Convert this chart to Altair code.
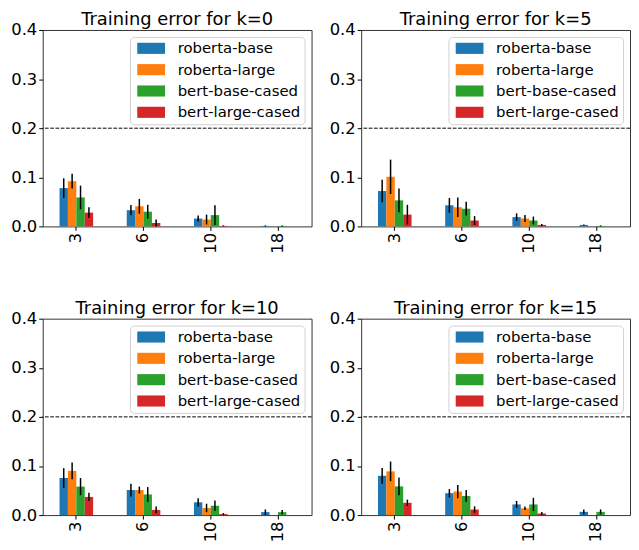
import altair as alt
import pandas as pd

lengths = ["3", "6", "10", "18"]
models = ["roberta-base", "roberta-large", "bert-base-cased", "bert-large-cased"]
colors = ["#1f77b4", "#ff7f0e", "#2ca02c", "#d62728"]
k_values = [0, 5, 10, 15]
threshold = 0.2

# mean training error per model (rows: models, cols: lengths)
mean_k0 = [[0.078, 0.033, 0.016, 0.001],
           [0.092, 0.041, 0.014, 0.0],
           [0.059, 0.030, 0.023, 0.001],
           [0.028, 0.007, 0.001, 0.0]]
err_k0 = [[0.020, 0.0105, 0.006, 0.001],
          [0.015, 0.015, 0.010, 0.0],
          [0.024, 0.014, 0.020, 0.001],
          [0.011, 0.007, 0.001, 0.0]]

mean_k5 = [[0.072, 0.043, 0.019, 0.003],
           [0.101, 0.039, 0.016, 0.0],
           [0.053, 0.036, 0.012, 0.001],
           [0.024, 0.012, 0.003, 0.0]]
err_k5 = [[0.023, 0.015, 0.0075, 0.001],
          [0.035, 0.020, 0.007, 0.0],
          [0.024, 0.014, 0.008, 0.001],
          [0.020, 0.009, 0.002, 0.0]]

mean_k10 = [[0.0755, 0.051, 0.026, 0.006],
            [0.090, 0.051, 0.0145, 0.0],
            [0.058, 0.042, 0.019, 0.006],
            [0.037, 0.0105, 0.002, 0.0]]
err_k10 = [[0.020, 0.013, 0.0085, 0.0055],
           [0.017, 0.007, 0.0085, 0.0],
           [0.0175, 0.015, 0.0105, 0.0045],
           [0.0085, 0.007, 0.002, 0.0]]

mean_k15 = [[0.080, 0.0445, 0.0217, 0.0066],
            [0.089, 0.048, 0.0138, 0.0],
            [0.0585, 0.039, 0.0217, 0.0066],
            [0.025, 0.0113, 0.0033, 0.0]]
err_k15 = [[0.016, 0.0085, 0.007, 0.005],
           [0.020, 0.0135, 0.0035, 0.0],
           [0.018, 0.012, 0.0135, 0.005],
           [0.0065, 0.0065, 0.003, 0.0]]

means = {0: mean_k0, 5: mean_k5, 10: mean_k10, 15: mean_k15}
errs = {0: err_k0, 5: err_k5, 10: err_k10, 15: err_k15}

rows = []
for k in k_values:
    for mi, m in enumerate(models):
        for li, L in enumerate(lengths):
            rows.append({"k": k, "model": m, "order": mi, "length": L,
                         "mean": means[k][mi][li], "err": errs[k][mi][li]})
df = pd.DataFrame(rows)
thr_df = pd.DataFrame({"y": [threshold]})

FONT = "DejaVu Sans"
W, H = 271, 198


def panel(k):
    base = alt.Chart(df).transform_filter(alt.datum.k == k)
    x = alt.X("length:N", sort=lengths, title=None,
              scale=alt.Scale(paddingInner=0.5, paddingOuter=0.25),
              axis=alt.Axis(labelAngle=270, labelFontSize=16.5, labelFont=FONT,
                            labelColor="black", tickColor="black", tickSize=4,
                            domain=False, labelPadding=2, labelBaseline="middle",
                            labelAlign="right"))
    xoff = alt.XOffset("model:N", sort=models, scale=alt.Scale(paddingInner=0, paddingOuter=0))
    yscale = alt.Scale(domain=[0, 0.4], nice=False)
    yaxis = alt.Axis(values=[0, 0.1, 0.2, 0.3, 0.4], format=".1f", labelFontSize=16.5,
                     labelFont=FONT, labelColor="black", tickColor="black", tickSize=4,
                     domain=False, grid=False, labelPadding=2)
    bars = base.mark_bar().encode(
        x=x, xOffset=xoff,
        y=alt.Y("mean:Q", scale=yscale, axis=yaxis, title=None),
        color=alt.Color("model:N", scale=alt.Scale(domain=models, range=colors),
                        legend=alt.Legend(title=None, orient="top-right")),
    )
    errbars = base.transform_filter(alt.datum.err > 0).transform_calculate(
        lo="datum.mean - datum.err", hi="datum.mean + datum.err"
    ).mark_rule(color="black", strokeWidth=1.5).encode(
        x=x, xOffset=xoff,
        y=alt.Y("lo:Q", scale=yscale),
        y2="hi:Q",
    )
    dash = alt.Chart(thr_df).mark_rule(color="black", strokeDash=[3.7, 1.6], strokeWidth=1).encode(
        y=alt.Y("y:Q", scale=yscale)
    )
    return alt.layer(bars, errbars, dash).properties(
        width=W, height=H,
        title=alt.Title(f"Training error for k={k}", fontSize=18, font=FONT,
                        fontWeight="normal", color="black", offset=-7),
    )


p = [panel(k) for k in k_values]
row1 = alt.hconcat(p[0], p[1], spacing=16).resolve_scale(color="independent")
row2 = alt.hconcat(p[2], p[3], spacing=16).resolve_scale(color="independent")
chart = alt.vconcat(row1, row2, spacing=45).resolve_scale(color="independent").properties(
    padding={"left": 2, "top": 0, "right": 0, "bottom": 0}
).configure_view(stroke="#333", strokeWidth=1).configure_legend(
    labelFont=FONT, labelFontSize=15, labelColor="black",
    symbolType="M-0.6,-0.8H3.4V0.8H-0.6Z", symbolSize=196, symbolStrokeWidth=0,
    symbolOpacity=1, strokeColor="#d0d0d0", fillColor="white", cornerRadius=4,
    padding=4, offset=7, labelOffset=29, rowPadding=5.5,
)

chart.save("out.html", embed_options={"renderer": "svg", "actions": False})
